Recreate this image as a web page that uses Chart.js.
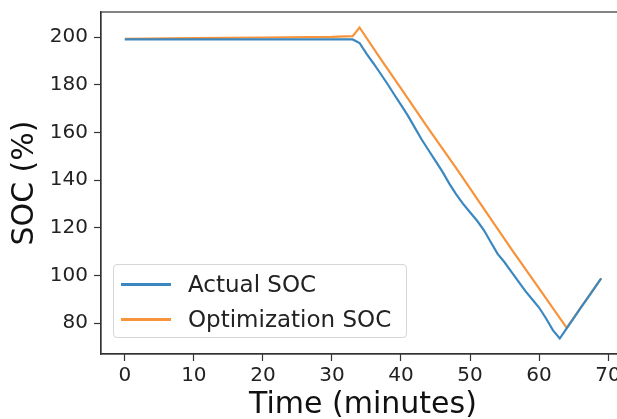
<!DOCTYPE html>
<html>
<head>
<meta charset="utf-8">
<script src="https://cdn.jsdelivr.net/npm/chart.js@4.4.0/dist/chart.umd.min.js"></script>
<style>
  html, body { margin: 0; padding: 0; overflow: hidden; background: #fff; }
  #wrap { position: relative; width: 617px; height: 419px; overflow: hidden; }
  #myChart { position: absolute; left: 0; top: 0; }
  #legend {
    position: absolute; left: 113px; top: 264px; width: 292px; height: 72px;
    border: 1px solid #d6d6d6; border-radius: 4px; background: rgba(255,255,255,0.8);
    font-family: 'DejaVu Sans', sans-serif; font-size: 23px; color: #222;
  }
  .row { position: absolute; left: 0; height: 30px; line-height: 30px; white-space: nowrap; }
  .swatch { position: absolute; left: 7px; top: 14px; width: 50px; height: 3px; }
  .label { position: absolute; left: 74px; top: 0; }
</style>
</head>
<body>
<div id="wrap">
  <canvas id="myChart" width="640" height="419"></canvas>
  <div id="legend"></div>
</div>
<script>
// Actual SOC
const actualTime = [0, 33, 34, 35, 36, 37, 38, 39, 40, 41, 42, 43, 44, 45, 46, 47, 48, 49, 50, 51, 52,
    53, 54, 55, 56, 57, 58, 59, 60, 61, 62, 63, 64, 65, 66, 67, 68, 69];
const actualSoc = [199, 199, 197.5, 193, 189, 184.8, 180.5, 176, 171.5, 167, 162, 157, 152.5, 148, 143.5, 138.5, 134, 130, 126.5, 123, 119,
    114, 109, 105.5, 101.5, 97.5, 93.5, 90, 86.5, 82, 77, 73.5, 77.8, 82, 86.2, 90.3, 94.5, 98.7];

// Optimization SOC
const optTime = [0, 10, 20, 30, 33, 34, 37, 40, 44, 48, 52, 56, 60, 64, 69];
const optSoc = [199.2, 199.5, 199.8, 200.1, 200.4, 204, 191, 178.5, 161.5, 145, 128, 111, 94.5, 78, 98.7];

const xTicks = [0, 10, 20, 30, 40, 50, 60, 70];
const yTicks = [80, 100, 120, 140, 160, 180, 200];

const ctx = document.getElementById('myChart');
const font = 'DejaVu Sans';

function toPoints(xs, ys) {
    return xs.map((x, i) => ({ x: x, y: ys[i] }));
}

// box round the plot area (right side is off the picture)
const frame = {
    id: 'frame',
    afterDraw(chart) {
        const a = chart.chartArea;
        const c = chart.ctx;
        c.save();
        c.strokeStyle = '#333';
        c.lineWidth = 1.2;
        c.strokeRect(a.left, a.top, a.right - a.left, a.bottom - a.top);
        c.restore();
    }
};

const chart = new Chart(ctx, {
    type: 'line',
    data: {
        datasets: [{
            label: 'Actual SOC',
            data: toPoints(actualTime, actualSoc),
            borderColor: '#3a88bf',
            borderWidth: 2.2,
            pointRadius: 0,
            tension: 0
        }, {
            label: 'Optimization SOC',
            data: toPoints(optTime, optSoc),
            borderColor: '#f7933a',
            borderWidth: 2.2,
            pointRadius: 0,
            tension: 0
        }]
    },
    options: {
        responsive: false,
        animation: false,
        layout: { padding: { left: 0, right: 15, top: 12, bottom: 0 } },
        plugins: { legend: { display: false }, tooltip: { enabled: false } },
        scales: {
            x: {
                type: 'linear',
                min: -3.45,
                max: 72.45,
                afterBuildTicks: (s) => { s.ticks = xTicks.map(v => ({ value: v })); },
                afterFit: (s) => { s.height = 65; s.paddingLeft = 0; s.paddingRight = 0; },
                grid: { drawOnChartArea: false, drawTicks: true, tickLength: 7, color: '#333', tickWidth: 1.2 },
                border: { display: true, color: '#333', width: 1.2 },
                ticks: { color: '#222', font: { family: font, size: 20 }, padding: 3, maxRotation: 0 },
                title: { display: true, text: 'Time (minutes)', color: '#111',
                    font: { family: font, size: 30, lineHeight: 0.95 }, padding: 0 }
            },
            y: {
                min: 67,
                max: 210.5,
                afterBuildTicks: (s) => { s.ticks = yTicks.map(v => ({ value: v })); },
                afterFit: (s) => { s.width = 101; s.paddingTop = 0; s.paddingBottom = 0; },
                grid: { drawOnChartArea: false, drawTicks: true, tickLength: 7, color: '#333', tickWidth: 1.2 },
                border: { display: true, color: '#333', width: 1.2 },
                ticks: { color: '#222', font: { family: font, size: 20 }, padding: 6 },
                title: { display: true, text: 'SOC (%)', color: '#111',
                    font: { family: font, size: 30, lineHeight: 1.2 }, padding: { top: 7, bottom: 0 } }
            }
        }
    },
    plugins: [frame]
});

// legend inside the plot, built from the datasets
const legend = document.getElementById('legend');
chart.data.datasets.forEach((ds, i) => {
    const row = document.createElement('div');
    row.className = 'row';
    row.style.top = (4 + i * 35) + 'px';
    row.innerHTML = '<div class="swatch" style="background:' + ds.borderColor + '"></div>' +
        '<div class="label">' + ds.label + '</div>';
    legend.appendChild(row);
});
</script>
</body>
</html>
